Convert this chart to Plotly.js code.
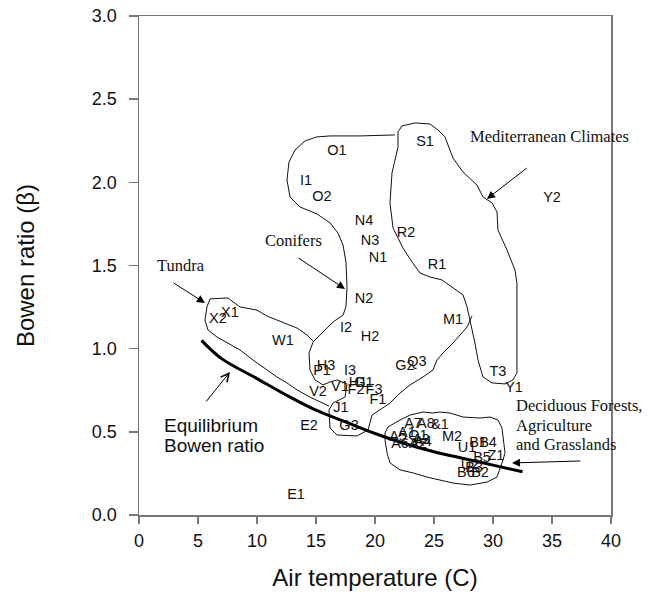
<!DOCTYPE html>
<html><head><meta charset="utf-8">
<script src="https://cdn.plot.ly/plotly-3.0.1.min.js"></script>
<style>body{margin:0;background:#fff}#chart{width:648px;height:595px}</style>
</head><body><div id="chart"></div>
<script>
// Site labels
const siteLabels = ["O1","S1","I1","O2","Y2","N4","R2","N3","N1","R1","N2","X1","X2","I2","H2","W1","M1","H3","P1","I3","G2","Q3","T3","Y1","H1","G1","V1","F2","F3","V2","F1","J1","E2","G3","E1","A7","A8","&1","A5","A1","Q1","A4","A3","M2","A6","A2","U1","B1","B4","B5","Z1","U2","B3","B6","B2"];
const siteTemp = [16.78,24.24,14.15,15.51,35.0,19.07,22.63,19.58,20.25,25.25,19.07,7.71,6.69,17.54,19.58,12.20,26.61,15.85,15.51,17.88,22.54,23.56,30.42,31.78,18.56,19.07,17.03,18.39,19.92,15.17,20.25,17.12,14.41,17.80,13.31,23.22,24.32,25.51,21.95,22.71,23.64,24.07,23.90,26.53,22.12,23.64,27.80,28.73,29.58,29.07,30.25,28.05,28.39,27.71,28.90];
const siteBowen = [2.188,2.243,2.008,1.912,1.906,1.768,1.695,1.647,1.545,1.503,1.299,1.214,1.178,1.124,1.070,1.046,1.172,0.896,0.866,0.866,0.896,0.920,0.860,0.764,0.794,0.794,0.770,0.752,0.752,0.740,0.691,0.643,0.535,0.535,0.120,0.547,0.547,0.541,0.469,0.493,0.475,0.439,0.451,0.469,0.427,0.427,0.403,0.433,0.433,0.343,0.355,0.301,0.283,0.253,0.253];

// Equilibrium Bowen ratio curve
const eqTemp = [5.3,7,10,12.5,15,17.5,20,22.5,25,27.5,30,32.5];
const eqBowen = [1.05,0.94,0.82,0.72,0.63,0.56,0.49,0.43,0.38,0.34,0.30,0.26];

// Region outlines
const medX = [21.95,22.29,23.39,24.66,25.34,25.93,26.61,27.46,28.64,29.15,29.92,30.34,30.42,31.19,31.86,32.03,32.03,31.69,31.02,29.92,29.15,28.73,28.47,28.05,27.80,27.46,26.61,25.68,24.66,23.81,23.14,22.37,21.53,21.27,21.44,21.95,21.95];
const medY = [2.303,2.339,2.357,2.351,2.315,2.273,2.146,2.062,1.984,1.912,1.876,1.822,1.713,1.593,1.473,1.395,0.854,0.812,0.788,0.794,0.830,0.932,1.034,1.172,1.251,1.323,1.365,1.413,1.431,1.455,1.521,1.605,1.725,1.876,2.056,2.212,2.303];
const conX = [21.69,18.73,16.19,15.08,14.07,13.22,12.71,12.54,12.80,13.64,15.08,16.19,16.86,17.29,17.54,17.63,17.54,17.29,16.44,15.59,14.75,14.41,14.49,14.92,15.59,16.19,16.78,17.63,17.46,16.44,16.10,16.19,16.78,18.47,19.41,19.75,21.27,22.12,22.97,24.07,24.92,25.25,25.76,26.61,27.80,28.22];
const conY = [2.285,2.279,2.279,2.273,2.249,2.194,2.122,2.014,1.912,1.852,1.810,1.756,1.695,1.623,1.521,1.371,1.251,1.202,1.160,1.100,1.040,0.974,0.872,0.812,0.782,0.800,0.812,0.788,0.709,0.673,0.631,0.523,0.481,0.475,0.511,0.601,0.673,0.733,0.782,0.830,0.872,0.932,0.974,1.034,1.130,1.196];
const tunX = [14.75,14.24,13.39,11.95,10.85,10.0,8.56,7.97,7.54,6.02,5.76,5.59,5.85,6.61,7.46,8.56,9.66,10.85,11.69,12.54,13.39,14.49,15.34,16.10];
const tunY = [1.046,1.082,1.124,1.166,1.196,1.232,1.251,1.281,1.305,1.299,1.251,1.172,1.112,1.070,1.034,0.992,0.932,0.872,0.830,0.794,0.752,0.709,0.679,0.655];
const decX = [20.85,21.10,22.12,22.97,24.07,24.92,25.51,26.36,27.46,28.90,29.75,30.42,30.76,30.85,31.02,30.85,30.59,30.34,29.49,28.05,26.61,25.51,24.41,23.22,22.12,21.27,21.02,20.85,20.85];
const decY = [0.493,0.529,0.571,0.601,0.619,0.613,0.619,0.613,0.589,0.583,0.589,0.571,0.523,0.463,0.373,0.331,0.271,0.228,0.198,0.180,0.192,0.210,0.228,0.253,0.271,0.313,0.373,0.451,0.493];

const xTicks = [0,5,10,15,20,25,30,35,40];
const yTicks = [0,0.5,1.0,1.5,2.0,2.5,3.0];

const outline = (x,y)=>({x:x,y:y,type:'scatter',mode:'lines',line:{color:'#111',width:1},hoverinfo:'skip',showlegend:false});

const traces = [
  outline(medX,medY), outline(conX,conY), outline(tunX,tunY), outline(decX,decY),
  {x:eqTemp,y:eqBowen,type:'scatter',mode:'lines',line:{color:'#000',width:3,shape:'spline'},showlegend:false},
  {x:siteTemp,y:siteBowen,text:siteLabels,type:'scatter',mode:'text',textposition:'middle center',
   textfont:{family:'Liberation Sans, Arial, sans-serif',size:14.5,color:'#111'},showlegend:false}
];

const serif = {family:'Liberation Serif, Times New Roman, serif',size:16.5,color:'#111'};
const sans19 = {family:'Liberation Sans, Arial, sans-serif',size:19,color:'#111'};
const txt = (x,y,t,f,anchor)=>({x:x,y:y,xref:'x',yref:'y',text:t,showarrow:false,font:f,xanchor:anchor||'center'});
const arrow = (x,y,ax,ay,head)=>({x:x,y:y,ax:ax,ay:ay,xref:'x',yref:'y',axref:'x',ayref:'y',text:'',showarrow:true,arrowhead:head,arrowsize:1.6,arrowwidth:1,arrowcolor:'#000'});

const layout = {
  width:648,height:595,
  margin:{l:139,r:37,t:16,b:80},
  paper_bgcolor:'#fff',plot_bgcolor:'#fff',
  showlegend:false,
  font:{family:'Liberation Sans, Arial, sans-serif',color:'#111'},
  xaxis:{range:[0,40],tickvals:xTicks,ticks:'outside',ticklen:7,tickwidth:1.5,tickcolor:'#777',ticklabelstandoff:2,
    showline:true,linecolor:'#777',linewidth:1.5,mirror:true,showgrid:false,zeroline:false,
    tickfont:{size:18,color:'#111'},title:{text:'Air temperature (C)',font:{size:24,color:'#111'},standoff:19}},
  yaxis:{range:[0,3],tickvals:yTicks,tickformat:'.1f',ticks:'outside',ticklen:9,tickwidth:1.5,tickcolor:'#777',ticklabelstandoff:8,
    showline:true,linecolor:'#777',linewidth:1.5,mirror:true,showgrid:false,zeroline:false,
    tickfont:{size:18,color:'#111'},title:{text:'Bowen ratio (β)',font:{size:24,color:'#111'},standoff:50}},
  annotations:[
    txt(34.79,2.273,'Mediterranean Climates',serif),
    txt(13.09,1.653,'Conifers',serif),
    txt(3.60,1.503,'Tundra',serif),
    txt(31.78,0.661,'Deciduous Forests,',serif,'left'),
    txt(31.78,0.541,'Agriculture',serif,'left'),
    txt(31.78,0.421,'and Grasslands',serif,'left'),
    txt(1.95,0.541,'Equilibrium',sans19,'left'),
    txt(1.95,0.415,'Bowen ratio',sans19,'left'),
    arrow(29.49,1.90,32.97,2.092,2),
    arrow(17.46,1.359,13.39,1.551,2),
    arrow(5.59,1.275,2.80,1.401,2),
    arrow(31.61,0.313,37.54,0.325,2),
    arrow(7.71,0.860,5.59,0.673,5)
  ]
};
Plotly.newPlot('chart',traces,layout,{displayModeBar:false,staticPlot:true});
</script></body></html>
